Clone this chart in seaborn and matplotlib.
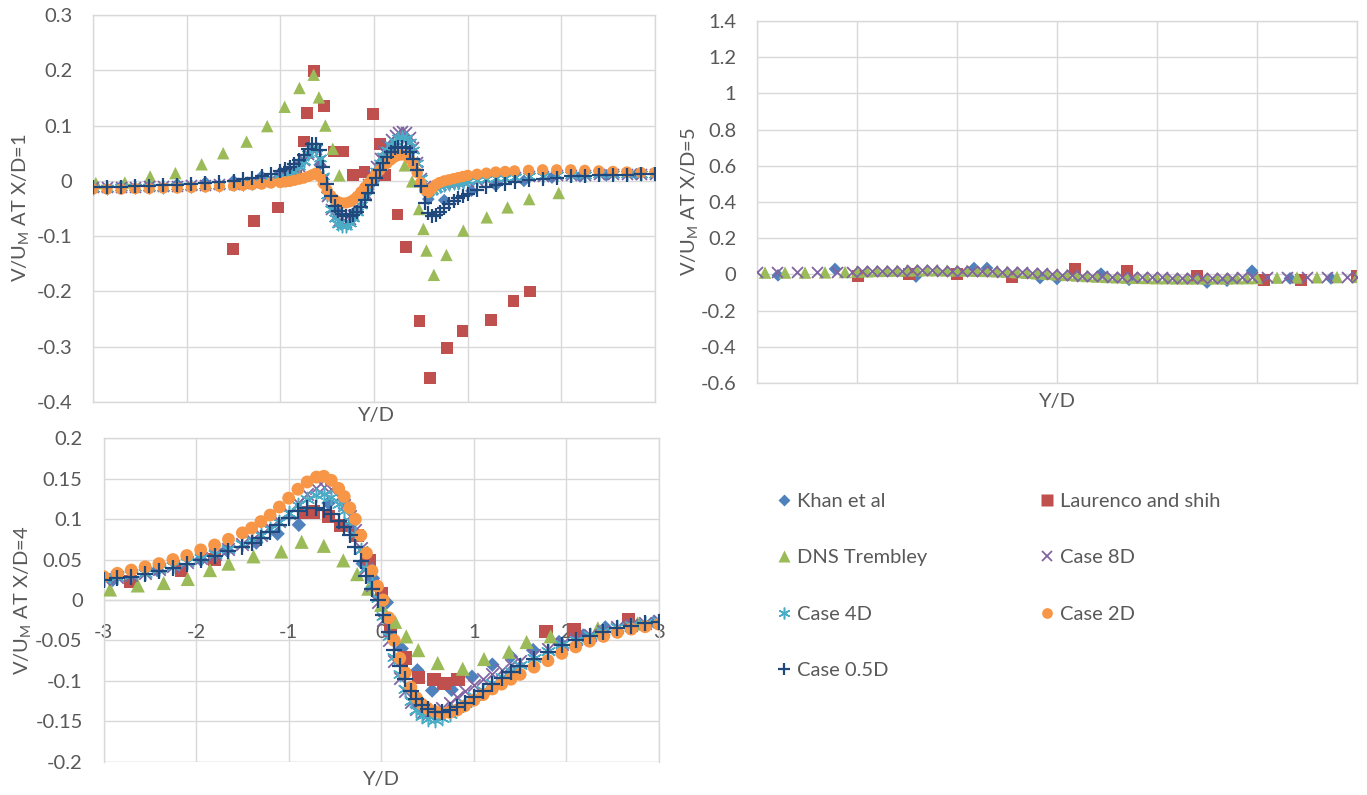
import numpy as np
import pandas as pd
import matplotlib
matplotlib.use("Agg")
import matplotlib.pyplot as plt
from matplotlib.lines import Line2D
from matplotlib.ticker import MultipleLocator, FuncFormatter
import seaborn as sns

# ---------------- DATA ----------------
series_names = ["Khan et al", "Laurenco and shih", "DNS Trembley", "Case 8D",
                "Case 4D", "Case 2D", "Case 0.5D"]

# ---- X/D = 1 (top-left) ----
khan1_x = [-3.0, -2.7, -2.4, -2.1, -1.8, -1.5, -1.2, -1.0, -0.78, -0.58, -0.4, -0.2,
           0.0, 0.2, 0.4, 0.58, 0.75, 1.04, 1.3, 1.6, 1.9, 2.2, 2.48, 2.8]
khan1_y = [-0.012, -0.010, -0.008, -0.006, -0.003, 0.000, 0.008, 0.015, 0.032, 0.029, -0.050,
           -0.055, 0.000, 0.050, 0.055, -0.033, -0.035, -0.018, -0.008, 0.000, 0.006, 0.008,
           0.010, 0.012]
laur1_x = [-1.509, -1.282, -1.023, -0.83, -0.745, -0.713, -0.644, -0.537, -0.426, -0.329,
           -0.227, -0.102, -0.009, 0.06, 0.12, 0.25, 0.343, 0.486, 0.602, 0.778, 0.944, 1.25,
           1.49, 1.667]
laur1_y = [-0.123, -0.072, -0.048, 0.009, 0.071, 0.123, 0.199, 0.136, 0.053, 0.053, 0.011,
           0.016, 0.121, 0.067, 0.010, -0.061, -0.120, -0.254, -0.357, -0.302, -0.272, -0.252,
           -0.217, -0.200]
dns1_x = [-2.97, -2.66, -2.39, -2.12, -1.84, -1.61, -1.36, -1.14, -0.954, -0.796, -0.644,
          -0.588, -0.519, -0.44, -0.37, 0.329, 0.407, 0.481, 0.528, 0.56, 0.639, 0.773, 0.954,
          1.204, 1.426, 1.657, 1.972]
dns1_y = [-0.004, -0.003, 0.008, 0.014, 0.030, 0.050, 0.071, 0.099, 0.134, 0.168, 0.192,
          0.151, 0.100, 0.058, 0.010, 0.028, -0.001, -0.051, -0.087, -0.126, -0.170, -0.134,
          -0.090, -0.066, -0.048, -0.033, -0.022]
cfd1_x = [-3.0, -2.85, -2.7, -2.55, -2.4, -2.25, -2.1, -1.95, -1.8, -1.65, -1.5,
          -1.4, -1.3, -1.2, -1.1, -1.0,
          -0.95, -0.9, -0.85, -0.8, -0.75, -0.7,
          -0.66, -0.62, -0.58, -0.54, -0.5, -0.46, -0.42, -0.38, -0.34, -0.3, -0.26, -0.22,
          -0.18, -0.14, -0.1, -0.06, -0.02,
          0.02, 0.06, 0.1, 0.14, 0.18, 0.22, 0.26, 0.3, 0.34, 0.38, 0.42, 0.46, 0.5, 0.54,
          0.58, 0.62, 0.66, 0.7,
          0.75, 0.8, 0.85, 0.9, 0.95, 1.0,
          1.1, 1.2, 1.3, 1.4, 1.5,
          1.65, 1.8, 1.95, 2.1, 2.25, 2.4, 2.55, 2.7, 2.85, 3.0]
case8_1 = [-0.012, -0.012, -0.011, -0.011, -0.010, -0.010, -0.009, -0.008, -0.007, -0.006, -0.005,
           -0.004, -0.002, 0.000, 0.003, 0.007,
           0.010, 0.014, 0.019, 0.027, 0.037, 0.049,
           0.058, 0.058, 0.038, 0.004, -0.028, -0.050, -0.064, -0.072, -0.075, -0.074, -0.069,
           -0.061, -0.050, -0.037, -0.022, -0.006, 0.010,
           0.026, 0.041, 0.054, 0.065, 0.075, 0.083, 0.088, 0.091, 0.089, 0.080, 0.062, 0.035,
           0.006, -0.010, -0.016, -0.014, -0.011, -0.008,
           -0.006, -0.004, -0.003, -0.002, -0.001, 0.000,
           0.002, 0.004, 0.005, 0.006, 0.007,
           0.008, 0.009, 0.010, 0.011, 0.011, 0.012, 0.012, 0.012, 0.012, 0.012]
case4_1 = [-0.013, -0.013, -0.012, -0.012, -0.011, -0.011, -0.010, -0.009, -0.008, -0.007, -0.006,
           -0.005, -0.003, -0.001, 0.002, 0.006,
           0.009, 0.013, 0.018, 0.026, 0.036, 0.048,
           0.058, 0.060, 0.042, 0.008, -0.025, -0.050, -0.068, -0.078, -0.082, -0.081, -0.076,
           -0.068, -0.057, -0.044, -0.030, -0.014, 0.002,
           0.018, 0.032, 0.045, 0.056, 0.065, 0.072, 0.077, 0.079, 0.077, 0.070, 0.055, 0.032,
           0.005, -0.012, -0.018, -0.016, -0.013, -0.010,
           -0.008, -0.006, -0.004, -0.003, -0.002, -0.001,
           0.001, 0.003, 0.005, 0.006, 0.007,
           0.008, 0.009, 0.010, 0.011, 0.011, 0.012, 0.012, 0.012, 0.012, 0.012]
case2_1 = [-0.015, -0.015, -0.015, -0.014, -0.014, -0.013, -0.013, -0.012, -0.011, -0.010, -0.009,
           -0.008, -0.007, -0.006, -0.004, -0.003,
           -0.002, -0.001, 0.001, 0.003, 0.005, 0.008,
           0.011, 0.014, 0.008, -0.005, -0.017, -0.027, -0.034, -0.038, -0.040, -0.040, -0.038,
           -0.034, -0.028, -0.020, -0.012, -0.004, 0.004,
           0.012, 0.019, 0.026, 0.032, 0.038, 0.043, 0.046, 0.047, 0.046, 0.040, 0.030, 0.015,
           -0.003, -0.016, -0.021, -0.014, -0.007, -0.003,
           0.000, 0.002, 0.004, 0.006, 0.008, 0.010,
           0.012, 0.014, 0.016, 0.017, 0.018,
           0.019, 0.020, 0.020, 0.020, 0.019, 0.018, 0.017, 0.016, 0.015, 0.015]
case05_1 = [-0.012, -0.012, -0.011, -0.010, -0.009, -0.008, -0.007, -0.005, -0.004, -0.002, 0.000,
            0.003, 0.006, 0.009, 0.013, 0.018,
            0.021, 0.025, 0.030, 0.038, 0.047, 0.058,
            0.066, 0.067, 0.055, 0.025, -0.005, -0.028, -0.045, -0.055, -0.060, -0.063, -0.064,
            -0.062, -0.056, -0.047, -0.035, -0.022, -0.008,
            0.006, 0.020, 0.033, 0.044, 0.053, 0.059, 0.062, 0.062, 0.059, 0.052, 0.040, 0.020,
            -0.010, -0.040, -0.058, -0.064, -0.062, -0.056,
            -0.049, -0.042, -0.036, -0.031, -0.027, -0.023,
            -0.017, -0.012, -0.008, -0.005, -0.002,
            0.001, 0.004, 0.006, 0.008, 0.009, 0.010, 0.011, 0.011, 0.012, 0.012]

# ---- X/D = 5 (top-right) ----
khan5_x = [-2.79, -2.22, -1.41, -0.83, -0.70, -0.17, 0.0, 0.44, 0.72, 1.5, 1.7, 1.95, 2.33, 2.74]
khan5_y = [-0.005, 0.030, -0.012, 0.035, 0.035, -0.020, -0.025, 0.004, -0.030, -0.045, -0.035,
           0.020, -0.022, -0.022]
laur5_x = [-1.99, -1.48, -1.0, -0.45, 0.18, 0.70, 1.40, 2.07, 2.44, 3.0]
laur5_y = [-0.011, 0.004, 0.004, -0.017, 0.030, 0.022, -0.007, -0.033, -0.030, -0.007]
dns5_x = [-2.92, -2.72, -2.52, -2.32, -2.12,
          -2.0, -1.9, -1.8, -1.7, -1.6, -1.5, -1.4, -1.3, -1.2, -1.1, -1.0, -0.9, -0.8, -0.7,
          -0.6, -0.5, -0.4, -0.3, -0.2, -0.1, 0.0,
          0.1, 0.2, 0.3, 0.4, 0.5, 0.6, 0.7, 0.8, 0.9, 1.0, 1.1, 1.2, 1.3, 1.4, 1.5, 1.6, 1.7,
          1.8, 1.9, 2.0,
          2.2, 2.4, 2.6, 2.8, 3.0]
dns5_y = [0.010, 0.010, 0.010, 0.011, 0.013,
          0.015, 0.017, 0.019, 0.020, 0.021, 0.022, 0.023, 0.023, 0.023, 0.022, 0.022, 0.021,
          0.020, 0.019, 0.017, 0.015, 0.012, 0.009, 0.006, 0.003, 0.000,
          -0.003, -0.006, -0.009, -0.012, -0.014, -0.016, -0.018, -0.019, -0.020, -0.021,
          -0.021, -0.022, -0.022, -0.022, -0.022, -0.022, -0.022, -0.021, -0.021, -0.020,
          -0.018, -0.017, -0.016, -0.015, -0.014]
case8_5_x = [-3.0, -2.8, -2.6, -2.4, -2.2,
             -2.05, -1.95, -1.85, -1.75, -1.65, -1.55, -1.45, -1.35, -1.25, -1.15, -1.05, -0.95,
             -0.85, -0.75, -0.65, -0.55, -0.45, -0.35, -0.25, -0.15, -0.05,
             0.05, 0.15, 0.25, 0.35, 0.45, 0.55, 0.65, 0.75, 0.85, 0.95, 1.05, 1.15, 1.25, 1.35,
             1.45, 1.55, 1.65, 1.75, 1.85, 1.95,
             2.1, 2.3, 2.5, 2.7, 2.9, 3.0]
case8_5_y = [0.012, 0.012, 0.012, 0.013, 0.014,
             0.016, 0.018, 0.019, 0.020, 0.021, 0.021, 0.022, 0.022, 0.022, 0.021, 0.021, 0.020,
             0.019, 0.018, 0.017, 0.015, 0.013, 0.011, 0.008, 0.005, 0.002,
             -0.001, -0.004, -0.007, -0.009, -0.011, -0.013, -0.014, -0.015, -0.016, -0.017,
             -0.017, -0.018, -0.018, -0.018, -0.018, -0.018, -0.018, -0.018, -0.017, -0.017,
             -0.016, -0.015, -0.014, -0.013, -0.012, -0.012]

# ---- X/D = 4 (bottom-left) ----
khan4_x = [-2.9, -2.42, -1.95, -1.67, -1.35, -1.12, -0.89, -0.57, -0.34, -0.2, -0.09, 0.06, 0.22,
           0.39, 0.55, 0.76, 0.98, 1.2, 1.4, 1.64, 1.92, 2.18, 2.42, 2.7, 2.95]
khan4_y = [0.025, 0.037, 0.050, 0.062, 0.071, 0.082, 0.093, 0.120, 0.090, 0.045, 0.027, -0.003,
           -0.060, -0.087, -0.112, -0.111, -0.095, -0.080, -0.070, -0.062, -0.052, -0.044,
           -0.034, -0.030, -0.027]
laur4_x = [-2.71, -2.16, -1.8, -0.82, -0.73, -0.57, -0.44, -0.26, -0.13, 0.0, 0.1, 0.26, 0.4,
           0.57, 0.68, 0.83, 1.78, 2.08, 2.67]
laur4_y = [0.023, 0.037, 0.050, 0.108, 0.109, 0.103, 0.092, 0.080, 0.049, 0.008, -0.037, -0.072,
           -0.096, -0.098, -0.103, -0.098, -0.039, -0.037, -0.024]
dns4_x = [-2.93, -2.63, -2.35, -2.09, -1.85, -1.65, -1.38, -1.08, -0.86, -0.62, -0.41, -0.26,
          -0.14, 0.0, 0.15, 0.27, 0.4, 0.61, 0.88, 1.11, 1.38, 1.57, 1.83, 2.34, 2.77]
dns4_y = [0.013, 0.018, 0.021, 0.026, 0.037, 0.045, 0.054, 0.060, 0.072, 0.067, 0.049, 0.032,
          0.014, -0.006, -0.027, -0.045, -0.062, -0.078, -0.085, -0.073, -0.064, -0.052, -0.045,
          -0.035, -0.029]
cfd4_x = [-3.0, -2.85, -2.7, -2.55, -2.4, -2.25, -2.1, -1.95, -1.8, -1.65, -1.5,
          -1.4, -1.3, -1.2, -1.1, -1.0, -0.9, -0.8, -0.7,
          -0.62, -0.54, -0.46,
          -0.4, -0.34, -0.28, -0.22, -0.16, -0.1, -0.04, 0.02, 0.08, 0.14, 0.2, 0.26, 0.32,
          0.38, 0.44, 0.5,
          0.58, 0.66, 0.74, 0.82, 0.9,
          1.0, 1.1, 1.2, 1.3, 1.4, 1.5,
          1.65, 1.8, 1.95, 2.1, 2.25, 2.4, 2.55, 2.7, 2.85, 3.0]
case8_4 = [0.026, 0.028, 0.031, 0.034, 0.038, 0.042, 0.047, 0.052, 0.057, 0.063, 0.069,
           0.074, 0.081, 0.089, 0.098, 0.108, 0.120, 0.131, 0.138,
           0.140, 0.137, 0.128,
           0.118, 0.104, 0.086, 0.064, 0.040, 0.018, -0.002, -0.025, -0.050, -0.075, -0.096,
           -0.113, -0.126, -0.135, -0.140, -0.141,
           -0.139, -0.134, -0.127, -0.120, -0.113,
           -0.105, -0.098, -0.092, -0.086, -0.080, -0.075,
           -0.068, -0.061, -0.054, -0.048, -0.043, -0.038, -0.034, -0.031, -0.028, -0.026]
case4_4 = [0.026, 0.028, 0.031, 0.034, 0.038, 0.042, 0.047, 0.052, 0.057, 0.063, 0.069,
           0.074, 0.080, 0.088, 0.097, 0.107, 0.117, 0.125, 0.130,
           0.131, 0.127, 0.119,
           0.110, 0.098, 0.082, 0.062, 0.040, 0.020, 0.002, -0.020, -0.045, -0.070, -0.092,
           -0.110, -0.125, -0.136, -0.143, -0.147,
           -0.148, -0.146, -0.141, -0.134, -0.127,
           -0.119, -0.111, -0.103, -0.095, -0.088, -0.081,
           -0.072, -0.063, -0.055, -0.049, -0.043, -0.038, -0.034, -0.031, -0.028, -0.026]
case2_4 = [0.029, 0.033, 0.037, 0.041, 0.045, 0.050, 0.055, 0.062, 0.068, 0.075, 0.083,
           0.089, 0.097, 0.105, 0.115, 0.126, 0.137, 0.146, 0.152,
           0.153, 0.148, 0.138,
           0.128, 0.114, 0.100, 0.080, 0.058, 0.036, 0.017, 0.000, -0.022, -0.050, -0.072,
           -0.090, -0.108, -0.121, -0.129, -0.134,
           -0.138, -0.140, -0.139, -0.136, -0.131,
           -0.124, -0.117, -0.110, -0.104, -0.098, -0.092,
           -0.083, -0.075, -0.066, -0.058, -0.051, -0.045, -0.040, -0.036, -0.033, -0.030]
case05_4 = [0.025, 0.027, 0.029, 0.032, 0.036, 0.040, 0.045, 0.050, 0.055, 0.060, 0.066,
            0.071, 0.077, 0.084, 0.093, 0.102, 0.110, 0.114, 0.114,
            0.111, 0.106, 0.098,
            0.090, 0.080, 0.066, 0.048, 0.030, 0.014, 0.000, -0.018, -0.040, -0.062, -0.082,
            -0.098, -0.112, -0.123, -0.130, -0.135,
            -0.138, -0.138, -0.136, -0.132, -0.127,
            -0.120, -0.112, -0.104, -0.096, -0.089, -0.082,
            -0.073, -0.064, -0.056, -0.049, -0.044, -0.039, -0.035, -0.032, -0.029, -0.027]

y_titles = ["V/U$_\\mathregular{M}$ AT X/D=1", "V/U$_\\mathregular{M}$ AT X/D=5",
            "V/U$_\\mathregular{M}$ AT X/D=4"]
x_title = "Y/D"

# ---------------- STYLE ----------------
sns.set_theme(style="white")
plt.rcParams["font.family"] = ["Lato", "DejaVu Sans"]
plt.rcParams["mathtext.fontset"] = "custom"
plt.rcParams["mathtext.rm"] = "Lato"
plt.rcParams["axes.unicode_minus"] = False

TXT = "#595959"
GRID = "#d9d9d9"
styles = {
    "Khan et al":        dict(marker="D", color="#4F81BD", s=42, lw=0),
    "Laurenco and shih": dict(marker="s", color="#C0504D", s=72, lw=0),
    "DNS Trembley":      dict(marker="^", color="#9BBB59", s=80, lw=0),
    "Case 8D":           dict(marker="x", color="#8064A2", s=62, lw=1.3),
    "Case 4D":           dict(marker=(6, 2, 0), color="#4BACC6", s=80, lw=1.1),
    "Case 2D":           dict(marker="o", color="#F79646", s=66, lw=0),
    "Case 0.5D":         dict(marker="+", color="#1F497D", s=95, lw=1.6),
}


def draw(ax, name, xs, ys, scale=1.0):
    st = styles[name]
    kw = dict(marker=st["marker"], color=st["color"], s=st["s"] * scale, ax=ax, legend=False,
              zorder=3)
    m = matplotlib.markers.MarkerStyle(st["marker"])
    if m.is_filled():
        kw["edgecolor"] = "none"
        kw["linewidth"] = 0
    else:
        kw["linewidth"] = st["lw"]
    sns.scatterplot(x=xs, y=ys, **kw)


def fmt(v, pos):
    return f"{round(v, 3) + 0.0:g}"


def style_axes(ax, ymin, ymax, ystep):
    ax.set_xlim(-3, 3)
    ax.set_ylim(ymin, ymax)
    ax.xaxis.set_major_locator(MultipleLocator(1))
    ax.yaxis.set_major_locator(MultipleLocator(ystep))
    ax.yaxis.set_major_formatter(FuncFormatter(fmt))
    ax.xaxis.set_major_formatter(FuncFormatter(fmt))
    ax.grid(True, color=GRID, linewidth=1.0, zorder=0)
    ax.set_axisbelow(True)
    for sp in ax.spines.values():
        sp.set_color(GRID)
        sp.set_linewidth(1.0)
    ax.tick_params(axis="both", length=0, labelsize=14.5, labelcolor=TXT)
    ax.tick_params(axis="y", pad=15)
    ax.set_xlabel("")
    ax.set_ylabel("")


W, H = 1367, 795
fig = plt.figure(figsize=(W / 100, H / 100), dpi=100)
fig.patch.set_facecolor("white")


def add_ax(l, t, r, b):
    return fig.add_axes([l / W, 1 - b / H, (r - l) / W, (b - t) / H])


ax1 = add_ax(93, 15, 655, 402)
ax2 = add_ax(757, 21, 1357, 383)
ax3 = add_ax(103.5, 438.3, 659, 761.7)

# ---- top-left ----
draw(ax1, "Khan et al", khan1_x, khan1_y)
draw(ax1, "Laurenco and shih", laur1_x, laur1_y)
draw(ax1, "DNS Trembley", dns1_x, dns1_y)
draw(ax1, "Case 8D", cfd1_x, case8_1)
draw(ax1, "Case 4D", cfd1_x, case4_1)
draw(ax1, "Case 2D", cfd1_x, case2_1)
draw(ax1, "Case 0.5D", cfd1_x, case05_1)
style_axes(ax1, -0.4, 0.3, 0.1)
ax1.tick_params(axis="x", labelbottom=False)

# ---- top-right ----
draw(ax2, "Khan et al", khan5_x, khan5_y)
draw(ax2, "Laurenco and shih", laur5_x, laur5_y)
draw(ax2, "DNS Trembley", dns5_x, dns5_y)
draw(ax2, "Case 8D", case8_5_x, case8_5_y)
style_axes(ax2, -0.6, 1.4, 0.2)
ax2.tick_params(axis="x", labelbottom=False)

# ---- bottom-left ----
sc = 1.3
draw(ax3, "Khan et al", khan4_x, khan4_y, sc)
draw(ax3, "Laurenco and shih", laur4_x, laur4_y, sc)
draw(ax3, "DNS Trembley", dns4_x, dns4_y, sc)
draw(ax3, "Case 8D", cfd4_x, case8_4, sc)
draw(ax3, "Case 4D", cfd4_x, case4_4, sc)
draw(ax3, "Case 2D", cfd4_x, case2_4, sc)
draw(ax3, "Case 0.5D", cfd4_x, case05_4, sc)
style_axes(ax3, -0.2, 0.2, 0.05)
ax3.spines["bottom"].set_position(("data", 0))
ax3.tick_params(axis="x", pad=17)
ax3.axhline(-0.2, color=GRID, linewidth=1.0, zorder=0)

# ---- axis titles ----
tkw = dict(fontsize=14.5, color=TXT)
fig.text(21 / W, 1 - 208 / H, y_titles[0], rotation=90, ha="center", va="center", **tkw)
fig.text(690 / W, 1 - 202 / H, y_titles[1], rotation=90, ha="center", va="center", **tkw)
fig.text(23 / W, 1 - 600 / H, y_titles[2], rotation=90, ha="center", va="center", **tkw)
fig.text(376 / W, 1 - 416 / H, x_title, ha="center", va="center", **tkw)
fig.text(1057 / W, 1 - 401 / H, x_title, ha="center", va="center", **tkw)
fig.text(381 / W, 1 - 779 / H, x_title, ha="center", va="center", **tkw)

# ---- legend ----
def handle(name):
    st = styles[name]
    m = matplotlib.markers.MarkerStyle(st["marker"])
    ms = np.sqrt(st["s"]) * 0.95
    if m.is_filled():
        return Line2D([], [], linestyle="none", marker=st["marker"], markersize=ms,
                      markerfacecolor=st["color"], markeredgecolor="none")
    return Line2D([], [], linestyle="none", marker=st["marker"], markersize=ms,
                  color=st["color"], markeredgewidth=st["lw"])


col1 = ["Khan et al", "DNS Trembley", "Case 4D", "Case 0.5D"]
col2 = ["Laurenco and shih", "Case 8D", "Case 2D"]
lkw = dict(frameon=False, fontsize=14.5, labelcolor=TXT, handlelength=0.6, handletextpad=0.35,
           labelspacing=1.95, borderpad=0, borderaxespad=0)
fig.legend([handle(n) for n in col1], col1, loc="upper left",
           bbox_to_anchor=(778 / W, 1 - 493 / H), **lkw)
fig.legend([handle(n) for n in col2], col2, loc="upper left",
           bbox_to_anchor=(1041 / W, 1 - 493 / H), **lkw)

fig.savefig("out.png", dpi=100, facecolor="white")
